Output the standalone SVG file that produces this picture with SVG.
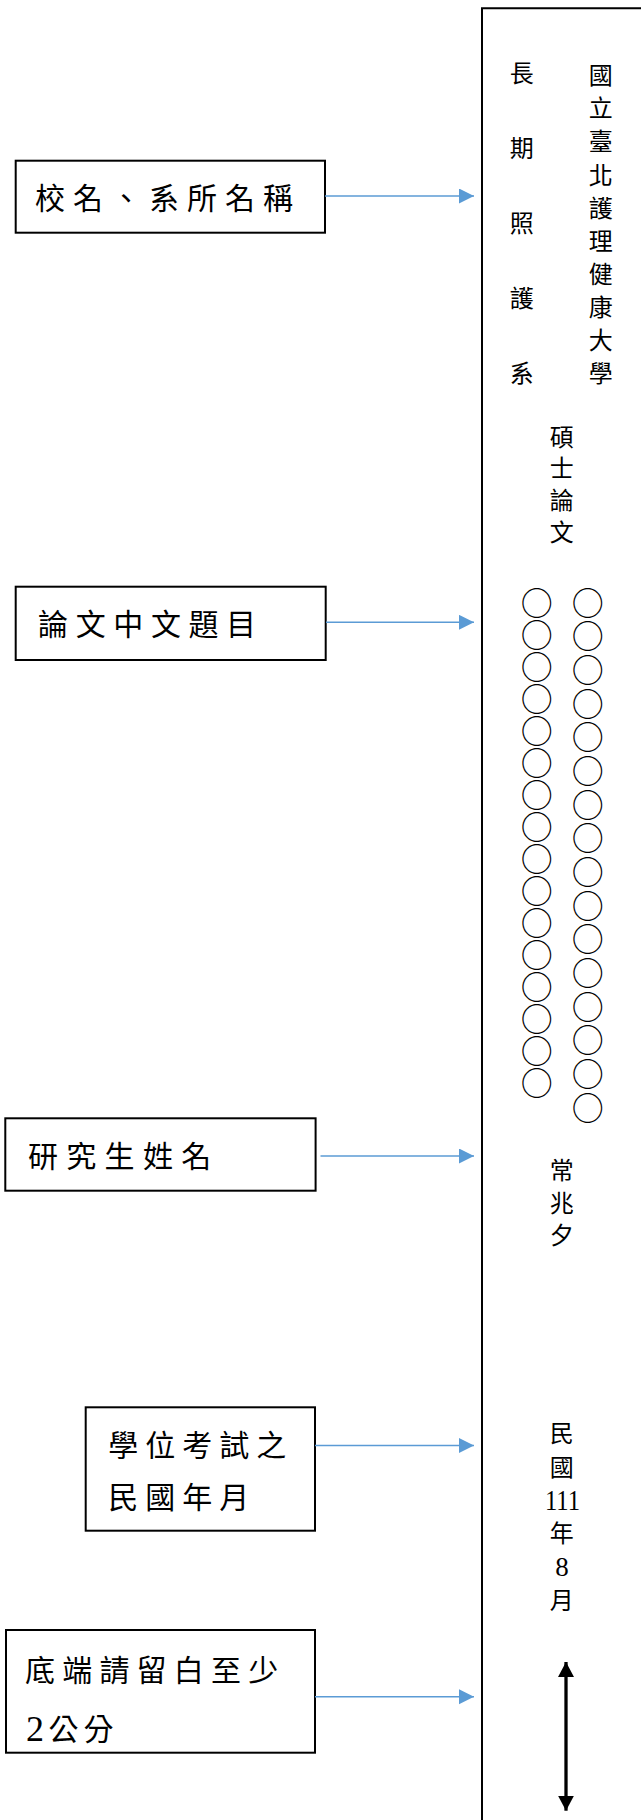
<svg xmlns="http://www.w3.org/2000/svg" width="641" height="1820" viewBox="0 0 641 1820">
<style>
.box{fill:#fff;stroke:#000;stroke-width:2}
.lbl{font-family:"Noto Sans CJK TC","Noto Sans CJK JP",sans-serif;font-size:30px;fill:#000}
.col{font-family:"Noto Sans CJK TC","Noto Sans CJK JP",sans-serif;font-size:24px;fill:#000;text-anchor:middle}
.circ{font-family:"Noto Sans CJK TC","Noto Sans CJK JP",sans-serif;font-size:32px;fill:#000;writing-mode:vertical-rl}
.num{font-family:"Liberation Serif","Times New Roman",serif;fill:#000}
.conn{stroke:#5B9BD5;stroke-width:1.5;fill:none;marker-end:url(#blueArrow)}
</style>
<defs>
<marker id="blueArrow" markerUnits="userSpaceOnUse" markerWidth="16" markerHeight="16" refX="15" refY="7.5" orient="auto">
<path d="M0,0 L15,7.5 L0,15 Z" fill="#5B9BD5"/>
</marker>
<marker id="blackArrow" markerUnits="userSpaceOnUse" markerWidth="16" markerHeight="16" refX="15" refY="8" orient="auto-start-reverse">
<path d="M0,0 L15,8 L0,16 Z" fill="#000"/>
</marker>
</defs>
<rect width="641" height="1820" fill="#fff"/>

<g id="page">
<path d="M482,1830 V8.3 H660" fill="none" stroke="#000" stroke-width="2"/>
<text class="col">
<tspan x="600.7" y="84.1">國</tspan><tspan x="600.7" y="117.2">立</tspan><tspan x="600.7" y="150.4">臺</tspan><tspan x="600.7" y="183.5">北</tspan><tspan x="600.7" y="216.7">護</tspan><tspan x="600.7" y="249.8">理</tspan><tspan x="600.7" y="283">健</tspan><tspan x="600.7" y="316.1">康</tspan><tspan x="600.7" y="349.3">大</tspan><tspan x="600.7" y="382.4">學</tspan>
</text>
<text class="col">
<tspan x="521.7" y="82.4">長</tspan><tspan x="521.7" y="157.4">期</tspan><tspan x="521.7" y="232.4">照</tspan><tspan x="521.7" y="307.4">護</tspan><tspan x="521.7" y="382.4">系</tspan>
</text>
<text class="col">
<tspan x="561.7" y="445.8">碩</tspan><tspan x="561.7" y="477.4">士</tspan><tspan x="561.7" y="509.1">論</tspan><tspan x="561.7" y="540.8">文</tspan>
</text>
<text class="circ" x="587.7" y="586.5" letter-spacing="1.67">○○○○○○○○○○○○○○○○</text>
<text class="circ" x="536.7" y="587.3">○○○○○○○○○○○○○○○○</text>
<text class="col">
<tspan x="561.7" y="1179.1">常</tspan><tspan x="561.7" y="1212.4">兆</tspan><tspan x="561.7" y="1244.1">夕</tspan>
</text>
<text class="col">
<tspan x="561.7" y="1442.4">民</tspan><tspan x="561.7" y="1475.8">國</tspan>
</text>
<text class="num" x="562.5" y="1509.7" font-size="29" text-anchor="middle" textLength="35" lengthAdjust="spacingAndGlyphs">111</text>
<text class="col" x="561.7" y="1542.4">年</text>
<text class="num" x="562" y="1576" font-size="27" text-anchor="middle">8</text>
<text class="col" x="561.7" y="1609.1">月</text>
</g>

<g id="node-school">
<rect class="box" x="15.7" y="160.7" width="309.3" height="72"/>
<text class="lbl" x="35" y="208.7" letter-spacing="8">校名、系所名稱</text>
</g>
<g id="node-title">
<rect class="box" x="15.7" y="586.7" width="310" height="73.3"/>
<text class="lbl" x="38.1" y="635.4" letter-spacing="7.6">論文中文題目</text>
</g>
<g id="node-student">
<rect class="box" x="5.3" y="1118.3" width="310.3" height="72.4"/>
<text class="lbl" x="28" y="1167.2" letter-spacing="8.3">研究生姓名</text>
</g>
<g id="node-date">
<rect class="box" x="85.7" y="1407.3" width="229.3" height="123.4"/>
<text class="lbl" x="108.3" y="1456.4" letter-spacing="7">學位考試之</text>
<text class="lbl" x="108.3" y="1508" letter-spacing="7">民國年月</text>
</g>
<g id="node-margin">
<rect class="box" x="6" y="1630" width="309" height="122.7"/>
<text class="lbl" x="25" y="1681.4" letter-spacing="7.2">底端請留白至少</text>
<text class="num" x="26" y="1741" font-size="36">2</text>
<text class="lbl" x="48.5" y="1739.5" letter-spacing="5">公分</text>
</g>

<g id="connectors">
<line class="conn" x1="325" y1="196" x2="474" y2="196"/>
<line class="conn" x1="326" y1="622.3" x2="474" y2="622.3"/>
<line class="conn" x1="320.5" y1="1156" x2="474" y2="1156"/>
<line class="conn" x1="315" y1="1445.5" x2="474" y2="1445.5"/>
<line class="conn" x1="315" y1="1696.7" x2="474" y2="1696.7"/>
<line x1="566" y1="1662" x2="566" y2="1810.7" stroke="#000" stroke-width="3.3" marker-start="url(#blackArrow)" marker-end="url(#blackArrow)"/>
</g>
</svg>
